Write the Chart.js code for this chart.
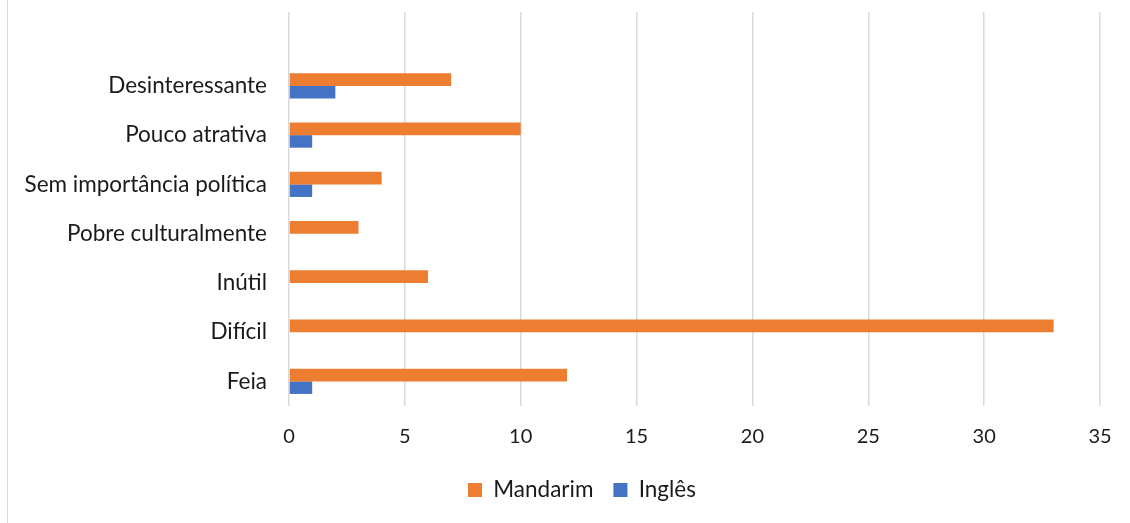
<!DOCTYPE html>
<html>
<head>
<meta charset="utf-8">
<script src="https://cdn.jsdelivr.net/npm/chart.js@4/dist/chart.umd.min.js"></script>
<style>
  html, body { margin: 0; padding: 0; background: #fff; }
  #wrap { position: relative; width: 1130px; height: 523px; overflow: hidden; }
  #frame { position: absolute; left: 7px; top: 0; width: 1px; height: 523px; background: #D9D9D9; }
  canvas { position: absolute; left: 0; top: 0; }
</style>
</head>
<body>
<div id="wrap">
  <div id="frame"></div>
  <canvas id="c" width="1130" height="523"></canvas>
</div>
<script>
// Categories, top to bottom (first row left blank)
const categories = ['', 'Desinteressante', 'Pouco atrativa', 'Sem importância política', 'Pobre culturalmente', 'Inútil', 'Difícil', 'Feia'];
const mandarim = [null, 7, 10, 4, 3, 6, 33, 12];
const ingles   = [null, 2, 1, 1, 0, 0, 0, 1];
const xTicks = [0, 5, 10, 15, 20, 25, 30, 35];

const FONT = 'Lato, "Open Sans", sans-serif';
const LABEL_SIZE = 22.5;
const TICK_SIZE = 20;
const TEXT = '#1a1a1a';

// nudge the legend row to the right of the page centre
const legendShift = {
  id: 'legendShift',
  afterLayout(chart) {
    const lg = chart.legend;
    if (lg) { lg.left += 32; lg.right += 32; }
  }
};

new Chart(document.getElementById('c'), {
  type: 'bar',
  data: {
    labels: categories,
    datasets: [
      { label: 'Mandarim', data: mandarim, backgroundColor: '#ED7D31', borderWidth: 0,
        barPercentage: 1, categoryPercentage: 0.51 },
      { label: 'Inglês', data: ingles, backgroundColor: '#4472C4', borderWidth: 0,
        barPercentage: 1, categoryPercentage: 0.51 }
    ]
  },
  plugins: [legendShift],
  options: {
    indexAxis: 'y',
    responsive: false,
    animation: false,
    layout: { padding: { top: 12, right: 30, left: 0, bottom: 11.75 } },
    scales: {
      x: {
        min: xTicks[0],
        max: xTicks[xTicks.length - 1],
        afterBuildTicks: (s) => { s.ticks = xTicks.map(v => ({ value: v })); },
        grid: { color: '#D9D9D9', lineWidth: 1.5, drawTicks: false },
        border: { display: false },
        ticks: { color: TEXT, font: { family: FONT, size: TICK_SIZE }, padding: 19 },
        afterFit: (s) => { s.height = 52.75; s.paddingLeft = 0; s.paddingRight = 0; }
      },
      y: {
        grid: { display: false, drawTicks: false },
        border: { display: false },
        ticks: { color: TEXT, font: { family: FONT, size: LABEL_SIZE }, padding: 22, autoSkip: false },
        afterFit: (s) => { s.width = 289; s.paddingTop = 0; s.paddingBottom = 0; }
      }
    },
    plugins: {
      legend: {
        position: 'bottom',
        labels: {
          color: TEXT,
          font: { family: FONT, size: LABEL_SIZE },
          boxWidth: 14, boxHeight: 14,
          padding: 20
        }
      },
      tooltip: { enabled: false }
    }
  }
});
</script>
</body>
</html>
